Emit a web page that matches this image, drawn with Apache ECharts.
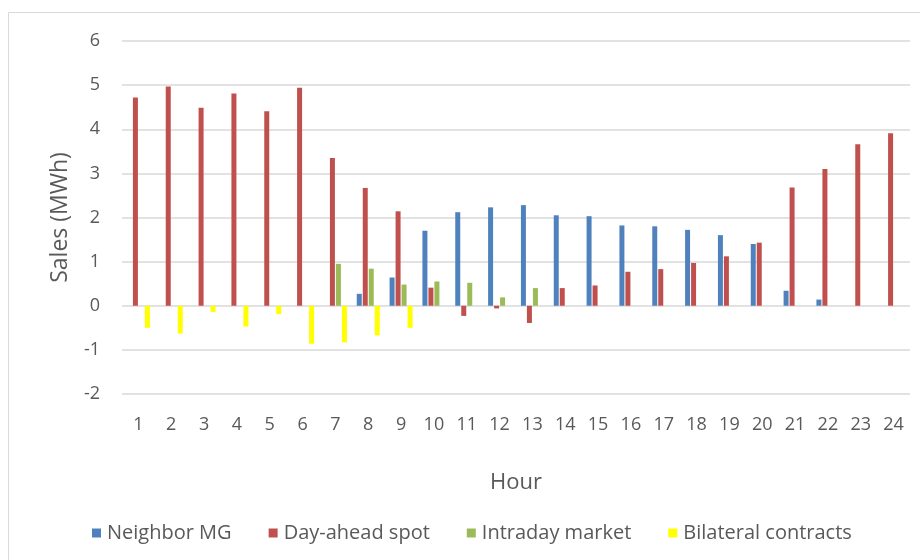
<!DOCTYPE html>
<html>
<head>
<meta charset="utf-8">
<style>
  html, body { margin: 0; padding: 0; background: #ffffff; }
  #chart { width: 920px; height: 560px; }
</style>
<script src="https://cdn.jsdelivr.net/npm/echarts@6/dist/echarts.min.js"></script>
</head>
<body>
<div id="chart"></div>
<script>
// Hourly sales by market channel (MWh)
const hours = ['1','2','3','4','5','6','7','8','9','10','11','12','13','14','15','16','17','18','19','20','21','22','23','24'];

const neighborMG = [null, null, null, null, null, null, null, 0.27, 0.64, 1.70, 2.12, 2.23, 2.28, 2.05, 2.03, 1.82, 1.80, 1.72, 1.60, 1.40, 0.34, 0.14, null, null];
const dayAheadSpot = [4.72, 4.97, 4.49, 4.81, 4.41, 4.94, 3.35, 2.67, 2.14, 0.41, -0.23, -0.06, -0.39, 0.40, 0.46, 0.77, 0.83, 0.97, 1.12, 1.43, 2.68, 3.10, 3.66, 3.91];
const intradayMarket = [null, null, null, null, null, null, 0.95, 0.84, 0.48, 0.55, 0.52, 0.19, 0.40, null, null, null, null, null, null, null, null, null, null, null];
const bilateralContracts = [-0.50, -0.63, -0.14, -0.47, -0.19, -0.86, -0.83, -0.67, -0.50, null, null, null, null, null, null, null, null, null, null, null, null, null, null, null];

const yTicks = { min: -2, max: 6, interval: 1 };

const FONT = '"Open Sans", "Liberation Sans", sans-serif';
const TEXT = '#595959';
const GRID_LINE = '#D9D9D9';

const chart = echarts.init(document.getElementById('chart'), null, { renderer: 'canvas' });

function barSeries(name, data, color) {
  return {
    name: name,
    type: 'bar',
    data: data,
    barWidth: 5,
    barGap: '20%',
    itemStyle: { color: color },
    emphasis: { disabled: true }
  };
}

chart.setOption({
  animation: false,
  backgroundColor: '#ffffff',
  textStyle: { fontFamily: FONT },
  graphic: [{
    type: 'rect',
    shape: { x: 8.5, y: 12.5, width: 930, height: 560 },
    style: { fill: 'none', stroke: '#D9D9D9', lineWidth: 1 },
    silent: true
  }],
  grid: { left: 122, right: 10, top: 41, bottom: 166, containLabel: false },
  legend: {
    left: 87,
    top: 518,
    itemWidth: 9,
    itemHeight: 9,
    itemGap: 37,
    icon: 'rect',
    textStyle: { fontFamily: FONT, fontSize: 20, color: TEXT, padding: [0, 0, 0, 1] },
    data: ['Neighbor MG', 'Day-ahead spot', 'Intraday market', 'Bilateral contracts']
  },
  xAxis: {
    type: 'category',
    data: hours,
    position: 'bottom',
    name: 'Hour',
    nameLocation: 'middle',
    nameGap: 78,
    nameTextStyle: { fontFamily: FONT, fontSize: 22, color: TEXT },
    axisLine: { show: false, onZero: false },
    axisTick: { show: false },
    axisLabel: { fontFamily: FONT, fontSize: 18, color: TEXT, margin: 22 },
    splitLine: { show: false }
  },
  yAxis: {
    type: 'value',
    min: yTicks.min,
    max: yTicks.max,
    interval: yTicks.interval,
    name: 'Sales (MWh)',
    nameLocation: 'middle',
    nameGap: 50,
    nameRotate: 90,
    nameTextStyle: { fontFamily: FONT, fontSize: 23, color: TEXT },
    axisLine: { show: false },
    axisTick: { show: false },
    axisLabel: { fontFamily: FONT, fontSize: 18, color: TEXT, margin: 22 },
    splitLine: { show: true, lineStyle: { color: GRID_LINE, width: 1.5 } }
  },
  series: [
    barSeries('Neighbor MG', neighborMG, '#4F81BD'),
    barSeries('Day-ahead spot', dayAheadSpot, '#C0504D'),
    barSeries('Intraday market', intradayMarket, '#9BBB59'),
    barSeries('Bilateral contracts', bilateralContracts, '#FFFF00')
  ]
});
</script>
</body>
</html>
